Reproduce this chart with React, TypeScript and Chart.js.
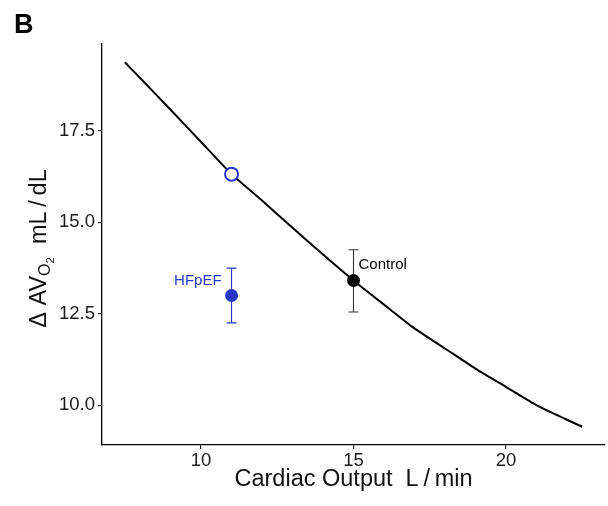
import React, { useEffect, useRef } from "react";
import { Chart, registerables } from "chart.js";
Chart.register(...registerables);

// Fick curve (iso-VO2 line)
const curveX = [7.5, 8, 9, 10, 11, 12, 13, 14, 15, 16, 17, 18, 19, 20, 21, 22, 22.5];
const curveY = [19.38, 18.95, 18.08, 17.2, 16.32, 15.6, 14.85, 14.12, 13.41, 12.75, 12.1, 11.55, 11.0, 10.5, 10.0, 9.6, 9.41];
// Groups
const groups = ["HFpEF", "Control"];
const groupX = [11, 15];
const groupY = [13.0, 13.41];
const groupLow = [12.25, 12.55];
const groupHigh = [13.75, 14.25];
const groupLabelY = [13.41, 13.85];
// Predicted HFpEF point on the curve
const predictedX = [11];
const predictedY = [16.32];
// Axis ticks
const xTicks = [10, 15, 20];
const yTicks = [10, 12.5, 15, 17.5];

const BLUE = "#2638c8";
const FONT = "'Liberation Sans', Arial, Helvetica, sans-serif";

const overlay = {
  id: "overlay",
  beforeDatasetsDraw(chart: any) {
    const ctx = chart.ctx;
    const xs = chart.scales.x;
    const ys = chart.scales.y;
    ctx.save();
    groups.forEach((g, i) => {
      const col = i === 0 ? BLUE : "#333333";
      const px = xs.getPixelForValue(groupX[i]);
      const pLo = ys.getPixelForValue(groupLow[i]);
      const pHi = ys.getPixelForValue(groupHigh[i]);
      ctx.strokeStyle = col;
      ctx.lineWidth = 1.1;
      ctx.beginPath();
      ctx.moveTo(px, pLo);
      ctx.lineTo(px, pHi);
      ctx.moveTo(px - 5, pLo);
      ctx.lineTo(px + 5, pLo);
      ctx.moveTo(px - 5, pHi);
      ctx.lineTo(px + 5, pHi);
      ctx.stroke();
    });
    ctx.restore();
  },
  afterDatasetsDraw(chart: any) {
    const ctx = chart.ctx;
    const xs = chart.scales.x;
    const ys = chart.scales.y;
    ctx.save();
    ctx.font = `15px ${FONT}`;
    ctx.textBaseline = "middle";
    groups.forEach((g, i) => {
      const px = xs.getPixelForValue(groupX[i]);
      const py = ys.getPixelForValue(groupLabelY[i]);
      if (i === 0) {
        ctx.fillStyle = BLUE;
        ctx.textAlign = "right";
        ctx.fillText(g, px - 10, py);
      } else {
        ctx.fillStyle = "#000";
        ctx.textAlign = "left";
        ctx.fillText(g, px + 5, py);
      }
    });
    ctx.restore();
  },
  afterDraw(chart: any) {
    const ctx = chart.ctx;
    const area = chart.chartArea;
    ctx.save();
    // Panel letter
    ctx.fillStyle = "#000";
    ctx.font = `bold 27px ${FONT}`;
    ctx.textAlign = "left";
    ctx.textBaseline = "alphabetic";
    ctx.fillText("B", 14, 33);
    // X title
    ctx.font = `23.5px ${FONT}`;
    ctx.textAlign = "center";
    ctx.fillStyle = "#111";
    ctx.fillText("Cardiac Output  L\u2009/\u2009min", (area.left + area.right) / 2, 486);
    // Y title (rotated, with subscript)
    const cy = (area.top + area.bottom) / 2 + 4;
    ctx.translate(46, cy);
    ctx.rotate(-Math.PI / 2);
    const parts = [
      { t: "\u0394 AV", f: `23.5px ${FONT}`, dy: 0 },
      { t: "O", f: `16px ${FONT}`, dy: 4 },
      { t: "2", f: `11.5px ${FONT}`, dy: 7.5 },
      { t: "  mL\u2009/\u2009dL", f: `23.5px ${FONT}`, dy: 0 },
    ];
    let total = 0;
    parts.forEach((p) => {
      ctx.font = p.f;
      total += ctx.measureText(p.t).width;
    });
    let x = -total / 2;
    ctx.textAlign = "left";
    parts.forEach((p) => {
      ctx.font = p.f;
      ctx.fillText(p.t, x, p.dy);
      x += ctx.measureText(p.t).width;
    });
    ctx.restore();
  },
};

export default function App() {
  const ref = useRef<HTMLCanvasElement>(null);
  useEffect(() => {
    const canvas = ref.current;
    if (!canvas) return;
    const chart = new Chart(canvas, {
      type: "scatter",
      data: {
        datasets: [
          {
            label: "Predicted",
            data: predictedX.map((x, i) => ({ x, y: predictedY[i] })),
            pointRadius: 6.5,
            pointBorderWidth: 2,
            pointBorderColor: BLUE,
            pointBackgroundColor: "#ffffff",
            order: 0,
          },
          {
            label: "HFpEF",
            data: [{ x: groupX[0], y: groupY[0] }],
            pointRadius: 6.5,
            pointBorderWidth: 0,
            pointBackgroundColor: BLUE,
            order: 1,
          },
          {
            label: "Control",
            data: [{ x: groupX[1], y: groupY[1] }],
            pointRadius: 6.5,
            pointBorderWidth: 0,
            pointBackgroundColor: "#000",
            order: 2,
          },
          {
            type: "line",
            label: "Curve",
            data: curveX.map((x, i) => ({ x, y: curveY[i] })),
            borderColor: "#000",
            borderWidth: 2,
            pointRadius: 0,
            tension: 0.2,
            fill: false,
            order: 10,
          } as any,
        ],
      },
      options: {
        responsive: false,
        animation: false,
        devicePixelRatio: 1,
        events: [],
        layout: { autoPadding: false, padding: { top: 44, right: 3, left: 0, bottom: 0 } },
        plugins: { legend: { display: false }, tooltip: { enabled: false } },
        scales: {
          x: {
            type: "linear",
            min: 6.75,
            max: 23.25,
            afterBuildTicks: (s: any) => {
              s.ticks = xTicks.map((v) => ({ value: v }));
            },
            afterFit: (s: any) => {
              s.height = 61;
              s.paddingLeft = 0;
              s.paddingRight = 0;
            },
            grid: { display: true, drawOnChartArea: false, tickLength: 4, color: "#222", lineWidth: 1.2 },
            border: { display: true, color: "#000", width: 1.3 },
            ticks: { color: "#1a1a1a", font: { family: FONT, size: 18.5 }, padding: 1, callback: (v: any) => String(v) },
          },
          y: {
            type: "linear",
            min: 8.91,
            max: 19.88,
            afterBuildTicks: (s: any) => {
              s.ticks = yTicks.map((v) => ({ value: v }));
            },
            afterFit: (s: any) => {
              s.width = 102;
              s.paddingTop = 0;
              s.paddingBottom = 0;
            },
            grid: { display: true, drawOnChartArea: false, tickLength: 4, color: "#222", lineWidth: 1.2 },
            border: { display: true, color: "#000", width: 1.3 },
            ticks: { color: "#1a1a1a", font: { family: FONT, size: 18.5 }, padding: 3, callback: (v: any) => Number(v).toFixed(1) },
          },
        },
      },
      plugins: [overlay],
    });
    return () => chart.destroy();
  }, []);
  return (
    <div style={{ position: "absolute", left: 0, top: 0, width: 608, height: 506, background: "#fff" }}>
      <canvas ref={ref} width={608} height={506} style={{ display: "block" }} />
    </div>
  );
}
